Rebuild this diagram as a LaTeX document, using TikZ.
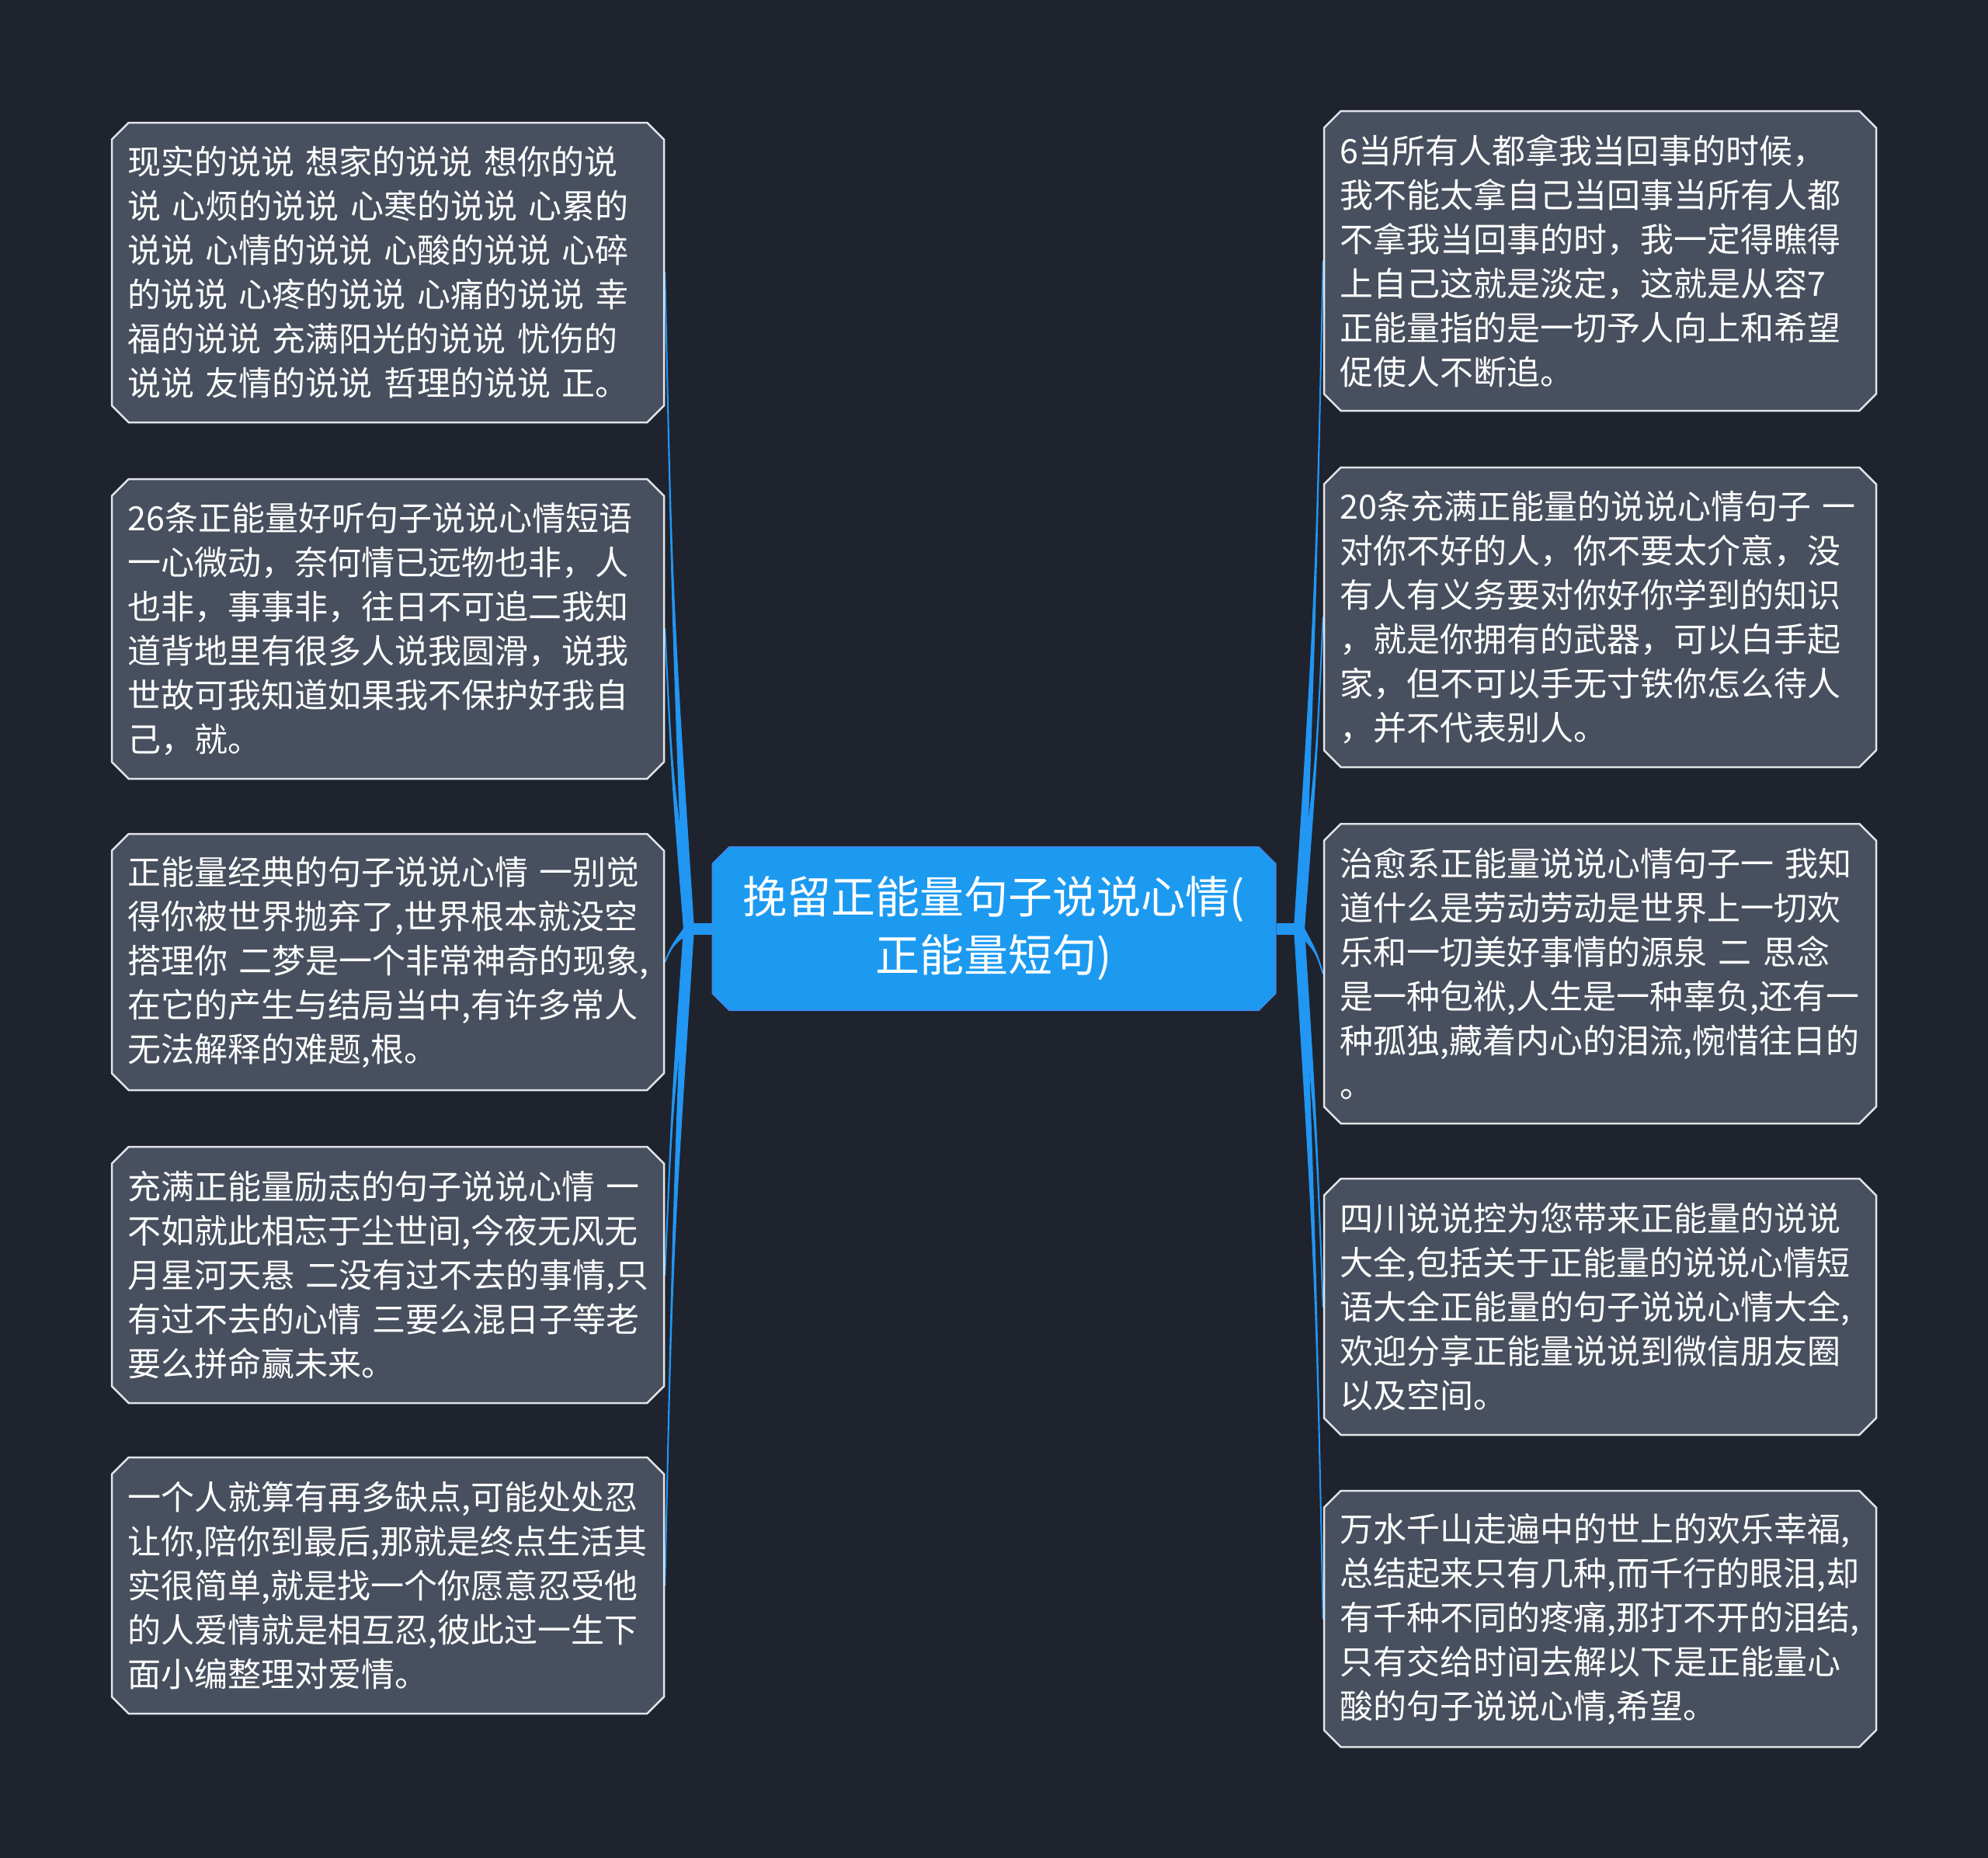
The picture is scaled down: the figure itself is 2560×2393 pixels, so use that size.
\documentclass[tikz,border=0pt]{standalone}
\usepackage{fontspec}
\setmainfont{Noto Sans CJK SC}
\usetikzlibrary{shapes.misc, calc, positioning, backgrounds}
\definecolor{bgdark}{RGB}{31,35,46}
\definecolor{leafgrey}{RGB}{72,79,94}
\definecolor{leafedge}{RGB}{225,228,232}
\definecolor{rootblue}{RGB}{28,154,240}
\definecolor{rootedge}{RGB}{58,140,238}
\definecolor{branchblue}{RGB}{33,150,243}

% tapered branch from a root coordinate to a box anchor
\newcommand{\branch}[2]{%
  \filldraw[branchblue, line width=2pt, line join=round] let \p1=(#1), \p2=(#2) in
    ([xshift=-6pt]#1) .. controls ({\x2+0.3*(\x1-\x2)},{0.5*(\y1+\y2)}) .. (#2)
    .. controls ({\x2+0.3*(\x1-\x2)},{0.5*(\y1+\y2)}) .. ([xshift=6pt]#1) -- cycle;}

\begin{document}
\begin{tikzpicture}[x=1pt, y=-1pt,
  leaf/.style={chamfered rectangle, chamfered rectangle xsep=18pt, fill=leafgrey, draw=leafedge, line width=2.5pt,
    text=white, text width=670pt, align=left, inner xsep=2.5pt, inner ysep=0pt, minimum width=711pt,
    font=\fontsize{43}{57}\selectfont},
  tallbox/.style={minimum height=386pt},
  lowbox/.style={minimum height=330pt},
  hubbox/.style={chamfered rectangle, chamfered rectangle xsep=18pt, fill=rootblue, draw=rootedge, line width=2pt,
    text=white, align=center, minimum width=725pt, minimum height=210pt, font=\fontsize{57}{75}\selectfont}]

  \begin{scope}[on background layer]
    \fill[bgdark] (0,0) rectangle (2560,2393);
  \end{scope}

  % central topic
  \node (hub) [hubbox] at (1280,1196) {挽留正能量句子说说心情(\\正能量短句)};

  % left boxes
  \node (l1) [leaf, tallbox] at (499.5,351) {现实的说说~想家的说说~想你的说\\说~心烦的说说~心寒的说说~心累的\\说说~心情的说说~心酸的说说~心碎\\的说说~心疼的说说~心痛的说说~幸\\福的说说~充满阳光的说说~忧伤的\\说说~友情的说说~哲理的说说~正。};
  \node (l2) [leaf, tallbox] at (499.5,810) {26条正能量好听句子说说心情短语\\一心微动，奈何情已远物也非，人\\也非，事事非，往日不可追二我知\\道背地里有很多人说我圆滑，说我\\世故可我知道如果我不保护好我自\\己，就。};
  \node (l3) [leaf, lowbox] at (499.5,1239) {正能量经典的句子说说心情~一别觉\\得你被世界抛弃了,世界根本就没空\\搭理你~二梦是一个非常神奇的现象,\\在它的产生与结局当中,有许多常人\\无法解释的难题,根。};
  \node (l4) [leaf, lowbox] at (499.5,1642) {充满正能量励志的句子说说心情~一\\不如就此相忘于尘世间,今夜无风无\\月星河天悬~二没有过不去的事情,只\\有过不去的心情~三要么混日子等老\\要么拼命赢未来。};
  \node (l5) [leaf, lowbox] at (499.5,2042) {一个人就算有再多缺点,可能处处忍\\让你,陪你到最后,那就是终点生活其\\实很简单,就是找一个你愿意忍受他\\的人爱情就是相互忍,彼此过一生下\\面小编整理对爱情。};

  % right boxes
  \node (r1) [leaf, tallbox] at (2060.5,336) {6当所有人都拿我当回事的时候，\\我不能太拿自己当回事当所有人都\\不拿我当回事的时，我一定得瞧得\\上自己这就是淡定，这就是从容7\\正能量指的是一切予人向上和希望\\促使人不断追。};
  \node (r2) [leaf, tallbox] at (2060.5,795) {20条充满正能量的说说心情句子~一\\对你不好的人，你不要太介意，没\\有人有义务要对你好你学到的知识\\，就是你拥有的武器，可以白手起\\家，但不可以手无寸铁你怎么待人\\，并不代表别人。};
  \node (r3) [leaf, tallbox] at (2060.5,1254) {治愈系正能量说说心情句子一~我知\\道什么是劳动劳动是世界上一切欢\\乐和一切美好事情的源泉~二~思念\\是一种包袱,人生是一种辜负,还有一\\种孤独,藏着内心的泪流,惋惜往日的\\。};
  \node (r4) [leaf, lowbox] at (2060.5,1683) {四川说说控为您带来正能量的说说\\大全,包括关于正能量的说说心情短\\语大全正能量的句子说说心情大全,\\欢迎分享正能量说说到微信朋友圈\\以及空间。};
  \node (r5) [leaf, lowbox] at (2060.5,2085) {万水千山走遍中的世上的欢乐幸福,\\总结起来只有几种,而千行的眼泪,却\\有千种不同的疼痛,那打不开的泪结,\\只有交给时间去解以下是正能量心\\酸的句子说说心情,希望。};

  % branches
  \coordinate (lroot) at (887,1196);
  \coordinate (rroot) at (1673,1196);
  \begin{scope}[on background layer]
    \draw[branchblue, line width=15pt] (lroot) -- (hub.west);
    \draw[branchblue, line width=15pt] (rroot) -- (hub.east);
    \foreach \b in {l1,l2,l3,l4,l5} {\branch{lroot}{\b.east}}
    \foreach \b in {r1,r2,r3,r4,r5} {\branch{rroot}{\b.west}}
  \end{scope}
\end{tikzpicture}
\end{document}
